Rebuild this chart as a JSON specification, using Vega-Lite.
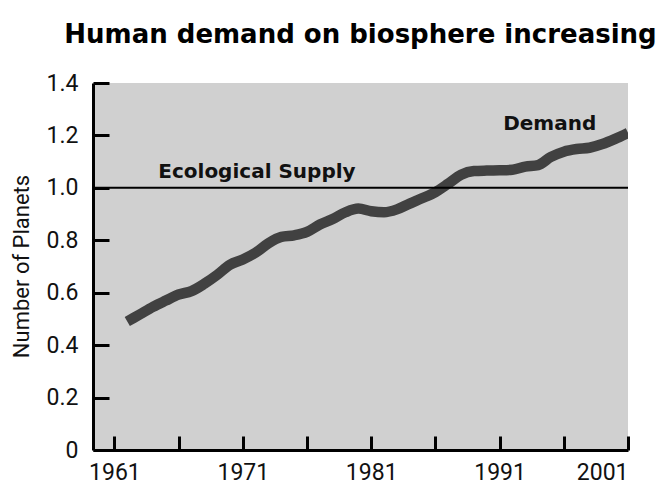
{
  "$schema": "https://vega.github.io/schema/vega-lite/v6.json",
  "autosize": "none",
  "width": 535,
  "height": 367,
  "padding": {"left": 93, "top": 83, "right": 33, "bottom": 38},
  "background": "white",
  "title": {
    "text": "Human demand on biosphere increasing",
    "font": "DejaVu Sans",
    "fontSize": 26,
    "fontWeight": "bold",
    "color": "#000000",
    "anchor": "middle",
    "offset": 24
  },
  "config": {
    "view": {"fill": "#d0d0d0", "stroke": null},
    "axis": {
      "grid": false,
      "domainColor": "#000000",
      "domainWidth": 3,
      "tickColor": "#000000",
      "tickWidth": 3,
      "labelFont": "Roboto",
      "labelFontSize": 23,
      "labelColor": "#111111",
      "titleFont": "Roboto",
      "titleFontSize": 22,
      "titleFontWeight": "normal",
      "titleColor": "#111111"
    }
  },
  "datasets": {
    "demand": [
      {"year": 1962, "planets": 0.49},
      {"year": 1963, "planets": 0.518},
      {"year": 1964, "planets": 0.546},
      {"year": 1965, "planets": 0.57},
      {"year": 1966, "planets": 0.593},
      {"year": 1967, "planets": 0.606},
      {"year": 1968, "planets": 0.634},
      {"year": 1969, "planets": 0.668},
      {"year": 1970, "planets": 0.707},
      {"year": 1971, "planets": 0.727},
      {"year": 1972, "planets": 0.753},
      {"year": 1973, "planets": 0.789},
      {"year": 1974, "planets": 0.813},
      {"year": 1975, "planets": 0.819},
      {"year": 1976, "planets": 0.832},
      {"year": 1977, "planets": 0.86},
      {"year": 1978, "planets": 0.881},
      {"year": 1979, "planets": 0.907},
      {"year": 1980, "planets": 0.921},
      {"year": 1981, "planets": 0.911},
      {"year": 1982, "planets": 0.907},
      {"year": 1983, "planets": 0.918},
      {"year": 1984, "planets": 0.94},
      {"year": 1985, "planets": 0.961},
      {"year": 1986, "planets": 0.984},
      {"year": 1987, "planets": 1.016},
      {"year": 1988, "planets": 1.05},
      {"year": 1989, "planets": 1.064},
      {"year": 1990, "planets": 1.066},
      {"year": 1991, "planets": 1.067},
      {"year": 1992, "planets": 1.069},
      {"year": 1993, "planets": 1.081},
      {"year": 1994, "planets": 1.087},
      {"year": 1995, "planets": 1.118},
      {"year": 1996, "planets": 1.138},
      {"year": 1997, "planets": 1.148},
      {"year": 1998, "planets": 1.153},
      {"year": 1999, "planets": 1.167},
      {"year": 2000, "planets": 1.187},
      {"year": 2001, "planets": 1.21}
    ],
    "supply": [{"planets": 1.0}],
    "labels": [
      {"year": 1972.1, "planets": 1.06, "text": "Ecological Supply"},
      {"year": 1994.9, "planets": 1.244, "text": "Demand"}
    ]
  },
  "layer": [
    {
      "data": {"name": "demand"},
      "mark": {"type": "line", "color": "#414141", "strokeWidth": 10.5, "interpolate": "monotone", "strokeCap": "butt", "clip": true},
      "encoding": {
        "x": {
          "field": "year",
          "type": "quantitative",
          "scale": {"domain": [1959.33, 2001], "nice": false, "zero": false},
          "axis": {
            "title": null,
            "values": [1961, 1966, 1971, 1976, 1981, 1986, 1991, 1996, 2001],
            "labelExpr": "(datum.value - 1961) % 10 == 0 ? toString(datum.value) : ''",
            "tickSize": -14,
            "labelPadding": 25,
            "labelBaseline": "top"
          }
        },
        "y": {
          "field": "planets",
          "type": "quantitative",
          "scale": {"domain": [0, 1.4], "nice": false},
          "axis": {
            "title": "Number of Planets",
            "values": [0, 0.2, 0.4, 0.6, 0.8, 1.0, 1.2, 1.4],
            "labelExpr": "datum.value == 0 ? '0' : format(datum.value, '.1f')",
            "tickSize": -16,
            "labelPadding": 31,
            "titleX": -72,
            "titleY": 183,
            "titleAngle": -90,
            "titleBaseline": "middle",
            "titleAlign": "center"
          }
        }
      }
    },
    {
      "data": {"name": "supply"},
      "mark": {"type": "rule", "color": "#000000", "strokeWidth": 2},
      "encoding": {"y": {"field": "planets", "type": "quantitative"}}
    },
    {
      "data": {"name": "labels"},
      "mark": {"type": "text", "font": "DejaVu Sans", "fontWeight": "bold", "fontSize": 20, "color": "#111111", "align": "center", "baseline": "middle"},
      "encoding": {
        "x": {"field": "year", "type": "quantitative"},
        "y": {"field": "planets", "type": "quantitative"},
        "text": {"field": "text"}
      }
    }
  ]
}
